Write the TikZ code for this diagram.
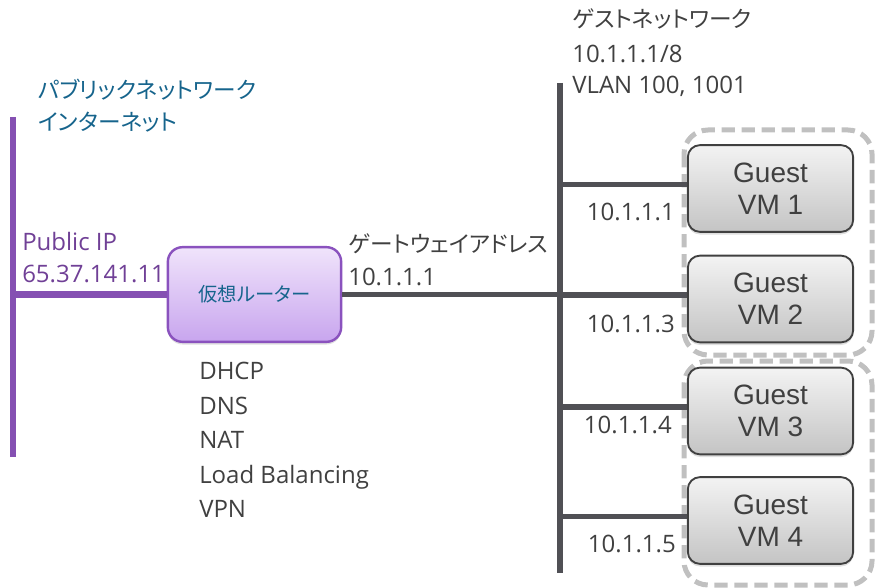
\documentclass[tikz,border=0pt]{standalone}
\usepackage{fontspec}
\setmainfont{Open Sans}
\newfontfamily\jpfont[RawFeature=+palt]{Noto Sans CJK JP}
\newfontfamily\vmfont{Liberation Sans}
\usepackage{tikz}
\usetikzlibrary{positioning,shadows}
\definecolor{publine}{RGB}{133,80,178}
\definecolor{pubtext}{RGB}{112,64,150}
\definecolor{nettext}{RGB}{22,100,140}
\definecolor{darktext}{RGB}{64,64,64}
\definecolor{busline}{RGB}{80,80,85}
\definecolor{framegray}{RGB}{192,192,192}
\definecolor{routertop}{RGB}{240,228,251}
\definecolor{routerbot}{RGB}{200,165,238}
\definecolor{routerdraw}{RGB}{138,82,190}
\definecolor{vmtop}{RGB}{243,243,243}
\definecolor{vmbot}{RGB}{196,196,196}
\newcommand{\txtsize}{\fontsize{18}{22}\selectfont}
\newcommand{\jpsize}{\fontsize{17}{20}\selectfont}

\begin{document}
\begin{tikzpicture}[
x=0.75pt,y=-0.75pt,
PublicLine/.style={draw=publine,line width=5pt},
GuestLine/.style={draw=busline,line width=4pt},
GroupFrame/.style={draw=framegray,line width=3.75pt,dash pattern=on 10pt off 5pt,rounded corners=18pt},
RouterBox/.style={draw=routerdraw,line width=1.8pt,rounded corners=11pt,top color=routertop,bottom color=routerbot,
  minimum width=130pt,minimum height=71pt,text=nettext,font=\jpfont\fontsize{14.5}{17}\selectfont,
  drop shadow={opacity=0.25,shadow xshift=0pt,shadow yshift=-2pt}},
GuestBox/.style={draw=darktext,line width=1.4pt,rounded corners=9pt,top color=vmtop,bottom color=vmbot,
  minimum width=124pt,minimum height=65pt,align=center,text=darktext,font=\vmfont\fontsize{21}{24}\selectfont,
  drop shadow={opacity=0.25,shadow xshift=0pt,shadow yshift=-2pt}},
PlainText/.style={anchor=base west,inner sep=0pt,text=darktext,font=\txtsize},
IPText/.style={anchor=base east,inner sep=0pt,text=darktext,font=\txtsize}
]
\useasboundingbox (0,0) rectangle (877,588);

% public side
\coordinate (pubtop) at (13,117);
\coordinate (pubbot) at (13,457);
% guest network bus
\coordinate (bustop) at (560,83);
\coordinate (busbot) at (560,573);

% dashed frames round the guests
\draw[GroupFrame] (684,130) rectangle (872,355);
\draw[GroupFrame] (684,361) rectangle (872,585);

\node[RouterBox] (router) at (254.5,294.5) {仮想ルーター};

\node[GuestBox] (vm1) at (770.5,188.5) {Guest\\VM 1};
\node[GuestBox] (vm2) at (770.5,299) {Guest\\VM 2};
\node[GuestBox] (vm3) at (770.5,411) {Guest\\VM 3};
\node[GuestBox] (vm4) at (770.5,520.5) {Guest\\VM 4};

% taps, a little above the middle of each guest
\coordinate (tap1) at ([yshift=3pt]vm1.west);
\coordinate (tap2) at ([yshift=3pt]vm2.west);
\coordinate (tap3) at ([yshift=3pt]vm3.west);
\coordinate (tap4) at ([yshift=3pt]vm4.west);

\draw[PublicLine] (pubtop)--(pubbot);
\draw[PublicLine] (pubtop |- router.west)--(router.west);

\draw[GuestLine] (bustop)--(busbot);
\draw[GuestLine] (router.east)--(bustop |- router.east);
\draw[GuestLine] (bustop |- tap1)--(tap1);
\draw[GuestLine] (bustop |- tap2)--(tap2);
\draw[GuestLine] (bustop |- tap3)--(tap3);
\draw[GuestLine] (bustop |- tap4)--(tap4);

% labels
\node[PlainText,text=nettext,font=\jpfont\jpsize] (pubname) at (38,99) {パブリックネットワーク};
\node[PlainText,text=nettext,font=\jpfont\jpsize] (inet) at (38,131) {インターネット};

\node[PlainText,text=pubtext] (pubip) at (22,250) {Public IP};
\node[PlainText,text=pubtext] (pubaddr) at (22,282) {65.37.141.11};

\node[PlainText,font=\jpfont\jpsize] (gwname) at (348,252) {ゲートウェイアドレス};
\node[PlainText] (gwaddr) at (348,285) {10.1.1.1};

\node[PlainText,font=\jpfont\jpsize] (guestname) at (572,28) {ゲストネットワーク};
\node[PlainText] (guestnet) at (572,63) {10.1.1.1/8};
\node[PlainText] (guestvlan) at (572,94) {VLAN 100, 1001};

\node[PlainText] (dhcp) at (199,379) {DHCP};
\node[PlainText] (dns) at (199,414) {DNS};
\node[PlainText] (nat) at (199,448) {NAT};
\node[PlainText] (lb) at (199,483) {Load Balancing};
\node[PlainText] (vpn) at (199,517) {VPN};

\node[IPText] (ip1) at (675,220) {10.1.1.1};
\node[IPText] (ip3) at (675,332) {10.1.1.3};
\node[IPText] (ip4) at (672,433) {10.1.1.4};
\node[IPText] (ip5) at (676,552) {10.1.1.5};

\end{tikzpicture}
\end{document}
